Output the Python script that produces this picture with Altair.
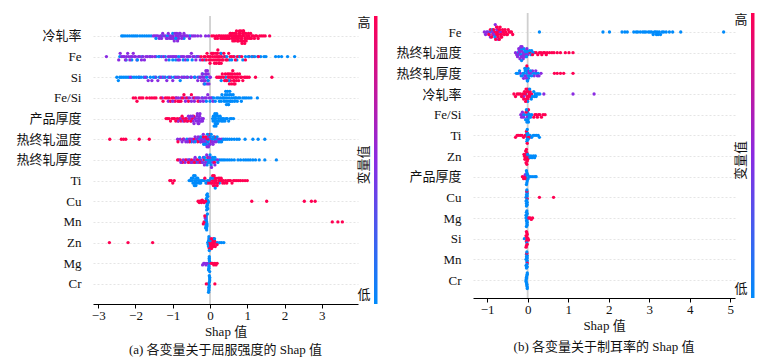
import math
import altair as alt
import pandas as pd

# ---------------- categories ----------------
A_FEATURES = ["冷轧率", "Fe", "Si", "Fe/Si", "产品厚度", "热终轧温度", "热终轧厚度",
              "Ti", "Cu", "Mn", "Zn", "Mg", "Cr"]
B_FEATURES = ["Fe", "热终轧温度", "热终轧厚度", "冷轧率", "Fe/Si", "Ti", "Zn",
              "产品厚度", "Cu", "Mg", "Si", "Mn", "Cr"]

A_TICKS = [-3, -2, -1, 0, 1, 2, 3]
B_TICKS = [-1, 0, 1, 2, 3, 4, 5]

# ---------------- (a) SHAP values, split by feature-value colour (r=high, p=mid, b=low) ----------------
a_lzl_b = [-2.37, -2.33, -2.28, -2.22, -2.16, -2.1, -2.05, -2.0, -1.95, -1.88, -1.82, -1.76, -1.7, -1.64,
           -1.58, -1.45, -1.3, -1.15, -1.0, -0.92, -0.85, -0.7, -0.55]
a_lzl_p = [-1.52, -1.48, -1.44, -1.4, -1.36, -1.33, -1.3, -1.27, -1.24, -1.2, -1.17, -1.14, -1.12, -1.1,
           -1.07, -1.05, -1.03, -1.0, -0.98, -0.96, -0.94, -0.92, -0.9, -0.89, -0.87, -0.86, -0.84, -0.82,
           -0.8, -0.78, -0.76, -0.73, -0.7, -0.67, -0.64, -0.6, -0.55, -0.5, -0.45, -0.4, -0.33, -0.25,
           -0.12, -0.04]
a_lzl_r = [0.05, 0.1, 0.14, 0.17, 0.2, 0.23, 0.26, 0.29, 0.31, 0.34, 0.36, 0.39, 0.41, 0.44, 0.46, 0.48,
           0.5, 0.52, 0.54, 0.55, 0.57, 0.59, 0.6, 0.61, 0.63, 0.64, 0.65, 0.66, 0.68, 0.69, 0.7, 0.71,
           0.72, 0.73, 0.74, 0.75, 0.76, 0.77, 0.78, 0.79, 0.8, 0.81, 0.82, 0.83, 0.84, 0.85, 0.86, 0.86,
           0.87, 0.88, 0.89, 0.9, 0.9, 0.91, 0.92, 0.93, 0.94, 0.95, 0.96, 0.97, 0.98, 1.0, 1.01, 1.03,
           1.05, 1.07, 1.09, 1.11, 1.13, 1.16, 1.19, 1.22, 1.25, 1.29, 1.33, 1.38, 1.43, 1.48, 1.6]

a_fe_p = [-2.78, -2.45, -2.41, -2.37, -2.33, -2.3, -2.27, -2.24, -2.21, -2.18, -2.15, -2.12, -2.09, -2.06,
          -2.03, -2.0, -1.96, -1.92, -1.88, -1.84, -1.8, -1.76, -1.72, -1.68, -1.62, -1.55, -1.48, -1.35,
          -1.25, -1.18, -1.12, -1.07, -1.02, -0.98, -0.94, -0.9, -0.86, -0.82, -0.78, -0.74, -0.7, -0.66,
          -0.62, -0.58, -0.54, -0.5, -0.46, -0.42, -0.38, -0.34, -0.3, -0.26]
a_fe_b = [-2.42, -2.25, -2.1, -1.95, -1.82, -1.6, -1.45, -1.38, -1.3, -1.2, -1.1, -1.0, -0.92, -0.84,
          -0.72, -0.6, -0.48, -0.36, -0.15, 0.3, 0.38, 0.45, 0.52, 0.58, 0.65, 0.72, 0.8, 0.88, 0.95, 1.03,
          1.12, 1.2, 1.28, 1.36, 1.45, 1.5, 1.76, 1.84, 1.92, 2.08, 2.27]
a_fe_r = [-0.24, -0.2, -0.16, -0.13, -0.1, -0.08, -0.06, -0.04, -0.02, 0.0, 0.01, 0.03, 0.04, 0.06, 0.07,
          0.09, 0.1, 0.12, 0.13, 0.14, 0.16, 0.17, 0.18, 0.19, 0.2, 0.21, 0.22, 0.23, 0.24, 0.25, 0.26,
          0.27, 0.28, 0.3, 0.31, 0.33, 0.35, 0.37, 0.4, 0.43, 0.46, 0.5, 0.54, 0.58, 0.63, 0.68, 0.73,
          0.78, 0.85, 0.95, 1.05, 1.15, 1.3]

a_si_b = [-2.5, -2.46, -2.42, -2.38, -2.33, -2.28, -2.23, -2.18, -2.1, -2.04, -1.98, -1.92, -1.85, -1.78,
          -1.7, -1.6, -1.52, -1.45, -1.36, -1.28, -1.2, -1.12, -1.04, -0.96, -0.88, -0.8, -0.72, -0.62,
          -0.52, -0.42, -0.32, -0.2, -0.14, -0.09, -0.05, 0.3, 0.42, 0.5]
a_si_p = [-2.14, -1.9, -1.74, -1.66, -1.56, -1.48, -1.4, -1.32, -1.24, -1.16, -1.08, -1.0, -0.92, -0.84,
          -0.76, -0.68, -0.6, -0.5, -0.4, -0.33, -0.28, -0.25, -0.23, -0.21, -0.19, -0.18, -0.16, -0.15,
          -0.13, -0.12, -0.11, -0.1, -0.08, -0.07, -0.06, -0.05, -0.03, -0.01, 0.01]
a_si_r = [0.18, 0.22, 0.26, 0.3, 0.33, 0.36, 0.39, 0.41, 0.43, 0.45, 0.47, 0.49, 0.51, 0.52, 0.54, 0.55,
          0.56, 0.58, 0.59, 0.6, 0.61, 0.62, 0.63, 0.64, 0.65, 0.66, 0.67, 0.68, 0.7, 0.71, 0.73, 0.75,
          0.77, 0.79, 0.82, 0.85, 0.88, 0.92, 0.96, 1.0, 1.05, 1.22, 1.66]

a_fesi_r = [-2.06, -2.0, -1.96, -1.9, -1.85, -1.8, -1.7, -1.62, -1.56, -1.5, -1.45, -1.32, -1.26, -1.2,
            -1.15, -1.1, -1.06, -1.02, -0.98, -0.94, -0.9, -0.86, -0.82, -0.78, -0.74, -0.7, -0.64, -0.58,
            -0.5, -0.42, -0.32]
a_fesi_p = [-1.28, -1.12, -1.0, -0.92, -0.85, -0.78, -0.7, -0.66, -0.6, -0.55, -0.5, -0.46, -0.42, -0.38,
            -0.34, -0.3, -0.26, -0.22, -0.18, -0.14, -0.1, -0.06, -0.02, 0.03, 0.08]
a_fesi_b = [-0.2, -0.1, 0.0, 0.06, 0.1, 0.14, 0.18, 0.22, 0.25, 0.28, 0.3, 0.32, 0.34, 0.36, 0.38, 0.4,
            0.41, 0.42, 0.43, 0.44, 0.45, 0.46, 0.47, 0.48, 0.49, 0.5, 0.51, 0.52, 0.53, 0.54, 0.55, 0.56,
            0.58, 0.6, 0.62, 0.64, 0.66, 0.68, 0.7, 0.73, 0.76, 0.8, 0.84, 0.88, 0.93, 0.98, 1.04, 1.1, 1.27]

a_cphd_r = [-1.18, -1.14, -1.1, -1.06, -1.02, -0.98, -0.95, -0.92, -0.88, -0.85, -0.82, -0.78, -0.75,
            -0.72, -0.68, -0.64, -0.6, -0.56, -0.52, -0.48, -0.44]
a_cphd_p = [-0.86, -0.78, -0.72, -0.66, -0.62, -0.58, -0.55, -0.52, -0.5, -0.47, -0.45, -0.43, -0.41,
            -0.39, -0.37, -0.35, -0.34, -0.33, -0.32, -0.31, -0.3, -0.29, -0.28, -0.27, -0.26, -0.24, -0.22,
            -0.2, -0.18]
a_cphd_b = [0.07, 0.08, 0.09, 0.1, 0.11, 0.12, 0.13, 0.13, 0.14, 0.15, 0.15, 0.16, 0.17, 0.18, 0.19, 0.2,
            0.21, 0.22, 0.23, 0.25, 0.27, 0.29, 0.31, 0.33, 0.35, 0.37, 0.4, 0.43, 0.46, 0.5, 0.54, 0.58, 0.63]

a_rzwd_r = [-2.69, -2.38, -2.32, -2.26, -1.9, -1.63, -0.86, -0.72, -0.55, -0.42, -0.33, -0.25, -0.18,
            -0.12, -0.07, -0.02, 0.04, 0.12]
a_rzwd_p = [-0.87, -0.8, -0.75, -0.7, -0.65, -0.6, -0.56, -0.52, -0.48, -0.44, -0.4, -0.36, -0.32, -0.29,
            -0.26, -0.23, -0.2, -0.18, -0.16, -0.14, -0.12, -0.1, -0.08, -0.06, -0.04, -0.02, 0.0, 0.02,
            0.05, 0.08, 0.12, 0.16, 0.2, 0.26, 0.32]
a_rzwd_b = [-0.62, -0.5, -0.4, -0.32, -0.26, -0.21, -0.17, -0.13, -0.1, -0.07, -0.05, -0.03, -0.01, 0.01,
            0.03, 0.06, 0.09, 0.12, 0.15, 0.19, 0.23, 0.27, 0.31, 0.36, 0.41, 0.46, 0.52, 0.58, 0.65, 0.72,
            0.78, 0.94, 1.15, 1.29, 1.47]

a_rzhd_r = [-0.87, -0.8, -0.74, -0.66, -0.58, -0.5, -0.42, -0.34, -0.26, -0.16, -0.06, 0.04, 0.12]
a_rzhd_p = [-0.84, -0.78, -0.72, -0.67, -0.62, -0.57, -0.52, -0.48, -0.44, -0.4, -0.36, -0.32, -0.28,
            -0.24, -0.21, -0.18, -0.15, -0.12, -0.09, -0.06, -0.03, 0.0, 0.04, 0.08, 0.13, 0.2]
a_rzhd_b = [-0.55, -0.38, -0.28, -0.2, -0.15, -0.11, -0.08, -0.06, -0.04, -0.02, 0.0, 0.01, 0.03, 0.05,
            0.07, 0.1, 0.13, 0.17, 0.21, 0.25, 0.3, 0.35, 0.4, 0.46, 0.52, 0.58, 0.65, 0.75, 0.82, 0.9,
            0.96, 1.02, 1.08, 1.15, 1.22, 1.32, 1.47, 1.78]

a_ti_r = [-1.08, -1.04, -1.0, -0.96, -0.14, -0.08, -0.03, 0.01, 0.03, 0.05, 0.07, 0.08, 0.09, 0.1, 0.11,
          0.12, 0.13, 0.14, 0.15, 0.16, 0.18, 0.19, 0.2, 0.22, 0.24, 0.26, 0.28, 0.3, 0.32, 0.34, 0.36,
          0.39, 0.42, 0.45, 0.48, 0.51, 0.55, 0.59, 0.63, 0.67, 0.72, 0.77, 0.82, 0.88, 0.94, 1.0]
a_ti_b = [-0.56, -0.53, -0.5, -0.48, -0.46, -0.45, -0.44, -0.43, -0.42, -0.41, -0.4, -0.39, -0.38, -0.37,
          -0.36, -0.35, -0.33, -0.31, -0.29, -0.27, -0.25, -0.22, -0.19, -0.15, -0.11, -0.07, -0.03, 0.02,
          0.07, 0.14, 0.25]

a_cu_r = [-0.32, -0.29, -0.27, -0.25, -0.23, -0.21, -0.19, -0.16, -0.12, 1.12, 1.52, 2.53, 2.72, 2.82]
a_cu_b = [-0.1, -0.1, -0.09, -0.09, -0.09, -0.08, -0.08, -0.08, -0.07, -0.07, -0.07, -0.06, -0.06, -0.06,
          -0.05, -0.05]

a_mn_b = [-0.12, -0.12, -0.11, -0.11, -0.11, -0.1, -0.1, -0.1, -0.09, -0.09, -0.09, -0.08, -0.08, -0.07]
a_mn_p = [-0.13]
a_mn_r = [-0.18, -0.16, -0.14, 3.28, 3.43, 3.55]

a_zn_r = [-2.7, -2.2, -1.54, -0.02, 0.0, 0.01, 0.02, 0.03, 0.04, 0.05, 0.06, 0.07, 0.08, 0.09, 0.1, 0.11,
          0.12, 0.14, 0.16, 0.19]
a_zn_b = [-0.06, -0.05, -0.05, -0.04, -0.04, -0.03, -0.03, -0.02, 0.0, 0.12, 0.2, 0.26, 0.31, 0.37]

a_mg_p = [-0.2, -0.17, -0.14, -0.11, -0.08]
a_mg_b = [-0.04, -0.04, -0.03, -0.03, -0.03, -0.02, -0.02, -0.02, -0.01, -0.01]
a_mg_r = [0.03, 0.07, 0.1, 0.13, 0.16, 0.19]

a_cr_b = [-0.04, -0.04, -0.03, -0.03, -0.03, -0.02, -0.02, -0.02, -0.01, -0.01, -0.01]
a_cr_r = [-0.1, 0.13]

# ---------------- (b) SHAP values ----------------
b_fe_r = [-0.96, -0.92, -0.89, -0.86, -0.84, -0.82, -0.8, -0.79, -0.78, -0.77, -0.76, -0.75, -0.74, -0.73,
          -0.72, -0.71, -0.7, -0.69, -0.68, -0.67, -0.66, -0.65, -0.64, -0.63, -0.62, -0.6, -0.58, -0.56,
          -0.54, -0.52, -0.5, -0.48, -0.46, -0.43, -0.4, -0.37]
b_fe_p = [-1.07, -1.04, -1.01, -0.98, -0.95, -0.92, -0.88, -0.84, -0.8, -0.76, -0.72, -0.68]
b_fe_b = [-0.93, -0.87, -0.81, 0.29, 1.86, 2.02, 2.33, 2.4, 2.46, 2.62, 2.68, 2.72, 2.78, 2.84, 2.88, 2.92,
          2.98, 3.02, 3.06, 3.1, 3.13, 3.16, 3.18, 3.2, 3.22, 3.25, 3.28, 3.32, 3.36, 3.42, 3.5, 3.58,
          3.78, 4.84]

b_rzwd_p = [-0.3, -0.27, -0.25, -0.23, -0.22, -0.21, -0.2, -0.19, -0.18, -0.17, -0.16, -0.15, -0.14,
            -0.13, -0.12, -0.11, -0.1, -0.08, -0.06, -0.04, -0.02, 0.0]
b_rzwd_b = [-0.24, -0.19, -0.17, -0.15, -0.13, -0.11, -0.09, -0.07, -0.05, -0.03, -0.01, 0.02, 0.05, 0.08,
            0.1, 0.13]
b_rzwd_r = [0.06, 0.12, 0.17, 0.21, 0.25, 0.29, 0.33, 0.35, 0.39, 0.42, 0.46, 0.48, 0.54, 0.6, 0.65, 0.73,
            0.81, 0.93, 1.02, 1.12]

b_rzhd_b = [-0.28, -0.24, -0.2, -0.16, -0.13, -0.11, -0.09, -0.07, -0.06, -0.05, -0.04, -0.03, -0.02,
            -0.01, 0.0, 0.01, 0.02, 0.03, 0.05, 0.07, 0.1, 0.14, 0.18, 0.22, 0.26]
b_rzhd_p = [-0.18, -0.1, -0.06, -0.03, 0.01, 0.04, 0.08, 0.12, 0.16, 0.2, 0.24, 0.28, 0.33]
b_rzhd_r = [-0.02, 0.66, 0.73, 0.81, 0.89, 1.12]

b_lzl_r = [-0.34, -0.3, -0.26, -0.22, -0.18, -0.15, -0.12, -0.1, -0.08, -0.06, -0.05, -0.04, -0.03, -0.02,
           -0.01, 0.0, 0.01, 0.02, 0.03, 0.04, 0.06, 0.08, 0.1]
b_lzl_b = [-0.05, 0.0, 0.05, 0.09, 0.12, 0.15, 0.17, 0.19, 0.21, 0.23, 0.26, 0.3]
b_lzl_p = [-0.1, 0.06, 0.4, 1.12, 1.64]

b_fesi_b = [-0.12, -0.08, -0.05, -0.03, -0.02, -0.01, 0.0, 0.01, 0.02, 0.03, 0.04, 0.05, 0.07, 0.1]
b_fesi_p = [-0.17, -0.15, -0.13, -0.1, -0.01]
b_fesi_r = [-0.04, 0.02, 0.15, 0.18, 0.21, 0.24, 0.27, 0.3, 0.34, 0.38, 0.43]

b_ti_r = [-0.3, -0.26, -0.22, -0.18, -0.14, -0.1, -0.06, -0.03, -0.01, 0.02, 0.05]
b_ti_b = [-0.03, -0.02, -0.02, -0.01, -0.01, -0.01, 0.0, 0.0, 0.01, 0.06, 0.1, 0.14, 0.18, 0.22, 0.26, 0.29]

b_zn_r = [-0.09, -0.08, -0.07, -0.06, -0.05, -0.05, -0.04, -0.04, -0.03, -0.03, -0.02, -0.02, -0.01, 0.0, 0.01]
b_zn_b = [-0.03, 0.0, 0.02, 0.05, 0.08, 0.11, 0.14, 0.17, 0.19]

b_cphd_r = [-0.13, -0.1, -0.08, -0.05]
b_cphd_p = [-0.06]
b_cphd_b = [-0.04, -0.03, -0.03, -0.02, -0.02, -0.01, -0.01, 0.0, 0.01, 0.04, 0.08, 0.13, 0.18, 0.21]

b_cu_b = [-0.04, -0.04, -0.03, -0.03, -0.03, -0.02, -0.02, -0.02, -0.01, -0.01, -0.01, -0.01]
b_cu_r = [-0.02, -0.01, 0.29, 0.64]

b_mg_b = [-0.04, -0.04, -0.03, -0.03, -0.03, -0.02, -0.02, -0.02, -0.01, -0.01, -0.01, -0.01]
b_mg_r = [0.03, 0.06, 0.09, 0.12]

b_si_r = [-0.04, -0.04, -0.03, -0.03, -0.03, -0.02, -0.02, -0.02, -0.01, -0.01, -0.01, 0.01, 0.02]
b_si_b = [-0.08, -0.02]

b_mn_b = [-0.04, -0.04, -0.03, -0.03, -0.03, -0.02, -0.02, -0.02, -0.01, -0.01, -0.01, -0.01]
b_mn_r = [-0.02, -0.01]

b_cr_b = [-0.04, -0.04, -0.03, -0.03, -0.03, -0.02, -0.02, -0.02, -0.01, -0.01, -0.01, -0.01]

HI, MID, LO = 1.0, 0.5, 0.0

A_GROUPS = {
    "冷轧率": [(LO, a_lzl_b), (MID, a_lzl_p), (HI, a_lzl_r)],
    "Fe": [(LO, a_fe_b), (MID, a_fe_p), (HI, a_fe_r)],
    "Si": [(LO, a_si_b), (MID, a_si_p), (HI, a_si_r)],
    "Fe/Si": [(LO, a_fesi_b), (MID, a_fesi_p), (HI, a_fesi_r)],
    "产品厚度": [(LO, a_cphd_b), (MID, a_cphd_p), (HI, a_cphd_r)],
    "热终轧温度": [(LO, a_rzwd_b), (MID, a_rzwd_p), (HI, a_rzwd_r)],
    "热终轧厚度": [(LO, a_rzhd_b), (MID, a_rzhd_p), (HI, a_rzhd_r)],
    "Ti": [(LO, a_ti_b), (HI, a_ti_r)],
    "Cu": [(LO, a_cu_b), (HI, a_cu_r)],
    "Mn": [(LO, a_mn_b), (MID, a_mn_p), (HI, a_mn_r)],
    "Zn": [(LO, a_zn_b), (HI, a_zn_r)],
    "Mg": [(LO, a_mg_b), (MID, a_mg_p), (HI, a_mg_r)],
    "Cr": [(LO, a_cr_b), (HI, a_cr_r)],
}
B_GROUPS = {
    "Fe": [(LO, b_fe_b), (MID, b_fe_p), (HI, b_fe_r)],
    "热终轧温度": [(LO, b_rzwd_b), (MID, b_rzwd_p), (HI, b_rzwd_r)],
    "热终轧厚度": [(LO, b_rzhd_b), (MID, b_rzhd_p), (HI, b_rzhd_r)],
    "冷轧率": [(LO, b_lzl_b), (MID, b_lzl_p), (HI, b_lzl_r)],
    "Fe/Si": [(LO, b_fesi_b), (MID, b_fesi_p), (HI, b_fesi_r)],
    "Ti": [(LO, b_ti_b), (HI, b_ti_r)],
    "Zn": [(LO, b_zn_b), (HI, b_zn_r)],
    "产品厚度": [(LO, b_cphd_b), (MID, b_cphd_p), (HI, b_cphd_r)],
    "Cu": [(LO, b_cu_b), (HI, b_cu_r)],
    "Mg": [(LO, b_mg_b), (HI, b_mg_r)],
    "Si": [(LO, b_si_b), (HI, b_si_r)],
    "Mn": [(LO, b_mn_b), (HI, b_mn_r)],
    "Cr": [(LO, b_cr_b)],
}


def beeswarm_table(features, groups, bw=0.05):
    """SHAP-style beeswarm layout: bin the values, stack points within a bin."""
    rows = []
    for r, f in enumerate(features):
        pts = [(x, c) for c, xs in groups[f] for x in xs]
        n = len(pts)
        order = sorted(range(n), key=lambda i: ((i * 37) % n, i))
        counts, layered = {}, []
        for i in order:
            b = math.floor(pts[i][0] / bw + 1e-9)
            k = counts.get(b, 0)
            counts[b] = k + 1
            layered.append((i, math.ceil(k / 2) * (1 if k % 2 == 1 else -1)))
        m = max(abs(o) for _, o in layered)
        s = 0.48 / (m + 1)
        for rank, (i, o) in enumerate(layered):
            rows.append({"feature": f, "shap": pts[i][0], "val": pts[i][1],
                         "y": r + o * s, "ord": rank})
    return pd.DataFrame(rows)


FONT = "'Liberation Serif', 'Noto Sans CJK SC'"
SERIF = "'Liberation Serif'"
RED, PUR, BLU = "#ff0052", "#8a2be2", "#008bfb"
TXT = "#111111"


def panel(features, groups, xdom, xticks, ydom, w, h, top_px, caption, cap_offset):
    df = beeswarm_table(features, groups)
    xscale = alt.Scale(domain=xdom, nice=False, zero=False)
    yscale = alt.Scale(domain=ydom, reverse=True, nice=False, zero=False)
    names = "[" + ",".join("'%s'" % f for f in features) + "]"
    xaxis = alt.Axis(values=xticks, format="d", title="Shap 值", grid=False,
                     domainColor="#000", tickColor="#000", tickSize=4,
                     labelFont=SERIF, labelFontSize=13, labelColor=TXT,
                     labelPadding=1, labelFlush=False,
                     titleFont=FONT, titleFontSize=13, titleFontWeight="normal",
                     titleColor=TXT, titlePadding=3)

    zero = alt.Chart(pd.DataFrame({"x": [0.0]})).mark_rule(color="#cfcfcf", strokeWidth=1.8).encode(
        x=alt.X("x:Q", scale=xscale, axis=xaxis), y=alt.value(top_px), y2=alt.value(h))

    pts = alt.Chart(df).mark_circle(size=11, opacity=1).encode(
        x=alt.X("shap:Q", scale=xscale, axis=xaxis),
        y=alt.Y("y:Q", scale=yscale,
                axis=alt.Axis(values=list(range(len(features))), labelExpr=names + "[datum.value]",
                              title=None, domain=False, ticks=False, grid=True,
                              gridColor="#dedede", gridDash=[2, 2], gridWidth=0.8,
                              labelFont=FONT, labelFontSize=13, labelColor=TXT,
                              labelPadding=12, labelOverlap=False)),
        color=alt.Color("val:Q", scale=alt.Scale(domain=[0, 0.5, 1], range=[BLU, PUR, RED]),
                        legend=None),
        order=alt.Order("ord:Q"),
    )

    grad = alt.Gradient(gradient="linear",
                        stops=[alt.GradientStop(color=RED, offset=0),
                               alt.GradientStop(color=PUR, offset=0.5),
                               alt.GradientStop(color=BLU, offset=1)],
                        x1=0, x2=0, y1=0, y2=1)
    bar = alt.Chart(pd.DataFrame({"a": [0]})).mark_rect(color=grad).encode(
        x=alt.value(w + 16), x2=alt.value(w + 19.5), y=alt.value(top_px), y2=alt.value(h))

    def label(t, ypx, angle=0):
        return alt.Chart(pd.DataFrame({"t": [t]})).mark_text(
            font=FONT, fontSize=13, color=TXT, angle=angle).encode(
            text="t:N", x=alt.value(w + 6), y=alt.value(ypx))

    hi = label("高", top_px + 7)
    lo = label("低", h - 9)
    mid = label("变量值", (top_px + h) / 2 + 5, angle=270)

    return alt.layer(zero, pts, bar, hi, lo, mid).properties(
        width=w, height=h,
        title=alt.TitleParams(caption, orient="bottom", font=FONT, fontSize=13,
                              fontWeight="normal", color=TXT, offset=cap_offset))


left = panel(A_FEATURES, A_GROUPS, [-3.14, 3.97], A_TICKS, [-1.11, 12.97], 265, 291, 3,
             "(a) 各变量关于屈服强度的 Shap 值", 6)
right = panel(B_FEATURES, B_GROUPS, [-1.35, 5.12], B_TICKS, [-0.92, 12.87], 262, 285, 0,
              "(b) 各变量关于制耳率的 Shap 值", 9)

chart = alt.hconcat(left, right, spacing=115, bounds="flush").properties(
    padding={"left": 7, "top": 4, "right": 5, "bottom": 0}
).configure_view(strokeWidth=0).configure_axis(labelOverlap=False)

chart.save("out.html", embed_options={"renderer": "svg", "actions": False})
